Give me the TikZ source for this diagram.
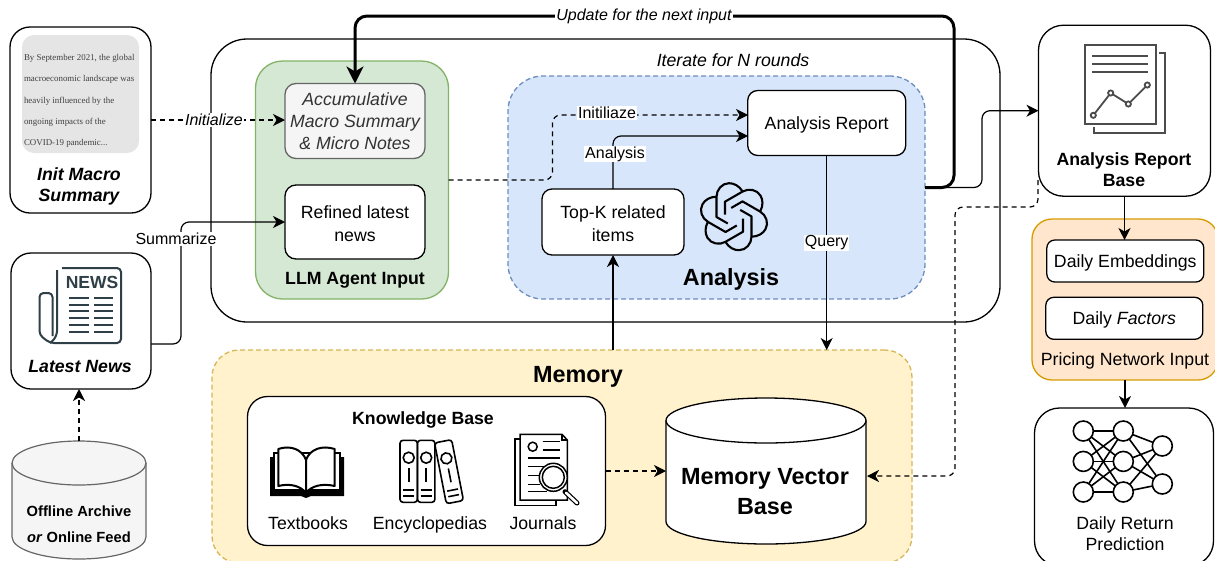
\documentclass[tikz,border=0pt]{standalone}
\usepackage{fontspec}
\setmainfont{Liberation Sans}
\newfontfamily\notefont{Liberation Serif}
\usetikzlibrary{arrows.meta}
\usetikzlibrary{positioning}
\definecolor{greenfill}{HTML}{D5E8D4}
\definecolor{greenline}{HTML}{82B366}
\definecolor{bluefill}{HTML}{D7E6FA}
\definecolor{blueline}{HTML}{6C8EBF}
\definecolor{yellowfill}{HTML}{FFF2CC}
\definecolor{yellowline}{HTML}{D6B656}
\definecolor{orangefill}{HTML}{FFE6CC}
\definecolor{orangeline}{HTML}{D79B00}
\definecolor{newsink}{HTML}{2F3F47}
\tikzset{
	box/.style={draw, line width=1.3pt, rounded corners=10pt, inner sep=0pt, outer sep=0pt, fill=white},
	groupdash/.style={dash pattern=on 5pt off 3pt},
	plain/.style={inner sep=0pt, outer sep=0pt, minimum size=0pt},
	txtsmall/.style={font=\fontsize{16}{20}\selectfont, align=center},
	txtmain/.style={font=\fontsize{17.7}{21.5}\selectfont, align=center},
	txtbig/.style={font=\fontsize{23.4}{30}\selectfont\bfseries, align=center},
	lbl/.style={txtsmall, fill=white, inner sep=1pt},
	arr/.style={-{Stealth[length=12pt,width=12pt,inset=3.5pt]}, line width=1.2pt},
	darr/.style={arr, dash pattern=on 5pt off 4pt},
}
\begin{document}
\begin{tikzpicture}[x=1pt,y=-1pt]
	\useasboundingbox (0,0) rectangle (1215,560);
	\clip (0,0) rectangle (1215,560);
	% groups
	\node[box, rounded corners=36pt, minimum width=789pt, minimum height=283pt] (iterate) at (605.5,180.5) {};
	\node[box, draw=greenline, fill=greenfill, rounded corners=27pt, minimum width=193pt, minimum height=238pt] (llm) at (352,180) {};
	\node[box, groupdash, draw=blueline, fill=bluefill, rounded corners=35pt, minimum width=417pt, minimum height=223pt] (analysis) at (716.5,187.5) {};
	\node[box, groupdash, draw=yellowline, fill=yellowfill, rounded corners=27pt, minimum width=700pt, minimum height=213pt] (memory) at (562,456.5) {};
	\node[box, draw=orangeline, fill=orangefill, rounded corners=20pt, minimum width=186pt, minimum height=161pt] (pricing) at (1125,299.5) {};
	% boxes
	\node[box, rounded corners=20pt, minimum width=141pt, minimum height=186pt] (init) at (80.5,120) {};
	\node[box, rounded corners=20pt, minimum width=140pt, minimum height=136pt] (news) at (81,321) {};
	\node[box, rounded corners=25pt, minimum width=172pt, minimum height=171pt] (rbase) at (1124.5,110.7) {};
	\node[box, rounded corners=25pt, minimum width=179pt, minimum height=158pt] (pred) at (1124,487) {};
	\node[box, rounded corners=20pt, minimum width=358pt, minimum height=149pt] (kb) at (426.5,471) {};
	\node[box, draw=black!60, fill=black!4, text=black!80, txtmain, font=\fontsize{17.7}{22}\selectfont\itshape, rounded corners=11pt, minimum width=140pt, minimum height=75pt] (accum) at (355,121) {Accumulative\\Macro Summary\\\& Micro Notes};
	\node[box, txtmain, font=\fontsize{17.7}{23}\selectfont, rounded corners=11pt, minimum width=140pt, minimum height=74pt] (refined) at (355,222) {\rule{0pt}{16pt}Refined latest\\news};
	\node[box, txtmain, minimum width=158pt, minimum height=65pt] (report) at (826.7,123) {\rule{0pt}{17pt}Analysis Report};
	\node[box, txtmain, font=\fontsize{17.7}{23}\selectfont, minimum width=142pt, minimum height=66pt] (topk) at (613,222) {\rule{0pt}{16pt}Top-K related\\items};
	\node[box, txtmain, rounded corners=8pt, minimum width=157pt, minimum height=42pt] (embed) at (1125.3,261) {\rule{0pt}{16pt}Daily Embeddings};
	\node[box, txtmain, rounded corners=8pt, minimum width=157pt, minimum height=42pt] (factors) at (1124.3,318.3) {\rule{0pt}{16pt}Daily \textit{Factors}};
	% cylinders
	\draw[line width=1.2pt, draw=black!60, fill=black!4] (12,463) arc[start angle=180, end angle=0, x radius=67pt, y radius=22pt] -- (146,537) arc[start angle=0, end angle=-180, x radius=67pt, y radius=22pt] -- cycle;
	\draw[line width=1.2pt, draw=black!60] (12,463) arc[start angle=180, end angle=360, x radius=67pt, y radius=22pt];
	\draw[line width=1.3pt, fill=white] (666,420.5) arc[start angle=180, end angle=0, x radius=100pt, y radius=22.5pt] -- (866,521.5) arc[start angle=0, end angle=-180, x radius=100pt, y radius=22.5pt] -- cycle;
	\draw[line width=1.3pt] (666,420.5) arc[start angle=180, end angle=360, x radius=100pt, y radius=22.5pt];
	\node[plain, minimum width=134pt, minimum height=118pt] (offline) at (79,500) {};
	\node[plain, minimum width=200pt, minimum height=146pt] (vecbase) at (766,471) {};
	% texts
	\node[box, draw=none, fill=black!10, rounded corners=12pt, minimum width=117pt, minimum height=118pt] (initpaper) at (80.5,94) {};
	\node[plain, anchor=west, text=black!75, align=left, font=\fontsize{8.9}{21.4}\selectfont\notefont] (initnote) at (24,101) {By September 2021, the global\\macroeconomic landscape was\\heavily influenced by the\\ongoing impacts of the\\COVID-19 pandemic...};
	\node[plain, txtmain, font=\fontsize{17.7}{21}\selectfont\bfseries\itshape] (initlbl) at (79,186) {Init Macro\\Summary};
	\node[plain, txtmain, font=\fontsize{17.7}{21}\selectfont\bfseries\itshape] (newslbl) at (80,366.5) {Latest News};
	\node[plain, txtmain, font=\fontsize{14.7}{26}\selectfont\bfseries] (offlinelbl) at (79,524) {Offline Archive\\\textit{or} Online Feed};
	\node[plain, txtmain, font=\fontsize{17.7}{21}\selectfont\bfseries] (llmlbl) at (355,280) {LLM Agent Input};
	\node[plain, txtbig] (analysislbl) at (731,279) {Analysis};
	\node[plain, txtmain, font=\fontsize{17.7}{21}\selectfont\itshape] (iterlbl) at (733,60.5) {Iterate for N rounds};
	\node[plain, txtbig] (memorylbl) at (578,377) {Memory};
	\node[plain, txtbig] (veclbl) at (765,491.5) {Memory Vector\\Base};
	\node[plain, txtmain, font=\fontsize{17.7}{21}\selectfont\bfseries] (kblbl) at (423,420) {Knowledge Base};
	\node[plain, txtmain, anchor=base] (textbooks) at (308,529) {Textbooks};
	\node[plain, txtmain, anchor=base] (encyc) at (430,529) {Encyclopedias};
	\node[plain, txtmain, anchor=base] (journals) at (543,529) {Journals};
	\node[plain, txtmain, font=\fontsize{17.7}{21}\selectfont\bfseries] (rbaselbl) at (1124,169.5) {Analysis Report\\Base};
	\node[plain, txtmain] (pricelbl) at (1125,361) {Pricing Network Input};
	\node[plain, txtmain, font=\fontsize{17.7}{21}\selectfont] (predlbl) at (1125,534) {Daily Return\\Prediction};
	% free ends
	\coordinate (newsout) at (151,344);
	\coordinate (reportinit) at (748,115);
	\coordinate (reportin) at (748,136);
	\coordinate (rbaseout) at (1038,180);
	\coordinate (vecin) at (867,476);
	% connectors
	\draw[darr] (init.east) -- (init.east -| accum.west) node[lbl, font=\fontsize{16}{20}\selectfont\itshape, pos=.47] (initlink) {Initialize};
	\draw[arr, rounded corners=8pt] (newsout) -- ++(30,0) |- (refined.west);
	\node[lbl] (sumlink) at (176,239) {Summarize};
	\draw[darr] (offline.north) -- (news.south -| offline.north);
	\draw[darr, rounded corners=8pt] (llm.east) -- ++(104,0) |- (reportinit);
	\node[lbl] (initlbl2) at (607,113) {Initiliaze};
	\draw[arr, rounded corners=8pt] (topk.north) |- (reportin);
	\node[lbl] (anlink) at (615,154) {Analysis};
	\draw[arr] (report.south) -- (report.south |- memory.north) node[lbl, pos=.45] (querylink) {Query};
	\draw[arr] (topk.south |- memory.north) -- (topk.south);
	\draw[arr, rounded corners=8pt] (analysis.east) -- ++(57,0) |- (rbase.west);
	\draw[arr, -{Stealth[length=17pt,width=17pt,inset=5pt]}, line width=3pt, rounded corners=12pt] (analysis.east) -- ++(29,0) |- (355,16) -- (accum.north);
	\node[lbl, font=\fontsize{16}{20}\selectfont\itshape] (updatelink) at (644,16) {Update for the next input};
	\draw[darr, rounded corners=8pt] (rbaseout) |- (955,207) |- (vecin);
	\draw[darr] (kb.east) -- (vecbase.west);
	\draw[arr] (rbase.south) -- (rbase.south |- embed.north);
	\draw[arr] (pricing.south) -- (pricing.south |- pred.north);
	% news icon
	\begin{scope}[newsink, line width=2pt, line join=round]
		\draw[rounded corners=4pt] (62,268) -- (121,268) -- (121,343) -- (50,343) -- (39.5,335) -- (39.5,293) -- (52.5,293) -- (52.5,336);
		\draw[rounded corners=6pt] (57,270) -- (57,337) -- (50,343);
		\node[plain, font=\fontsize{17.5}{17.5}\selectfont\bfseries] (newsword) at (92,282.5) {NEWS};
		\foreach \y in {298,305,311,318,325,332}{
			\draw[line width=2.7pt] (69.3,\y) -- (88.7,\y);
			\draw[line width=2.7pt] (94.3,\y) -- (113,\y);
		}
	\end{scope}
	% report icon
	\begin{scope}[black!70, line width=1.8pt]
		\draw (1085.3,44.7) rectangle (1156,124);
		\draw (1159,53.3) -- (1164.7,53.3) -- (1164.7,132.7) -- (1094.3,132.7) -- (1094.3,126.7);
		\foreach \y in {56,64,72}{
			\draw (1092.3,\y) -- (1148,\y);
		}
		\draw (1093.3,115.3) -- (1110.7,93) -- (1128.3,104) -- (1147.3,85);
		\foreach \x/\y in {1093.3/115.3,1110.7/93,1128.3/104,1147.3/85}{
			\draw[fill=white] (\x,\y) circle (2.6pt);
		}
	\end{scope}
	% network icon
	\foreach \n/\x/\y in {a/1083.3/431,b/1083.3/461.4,c/1083.3/492,d/1123.3/431,e/1123.3/461.4,f/1123.3/492,g/1162.3/446,h/1162.3/484}{
		\coordinate (\n) at (\x,\y);
	}
	\foreach \s in {a,b,c}{
		\foreach \t in {d,e,f}{
			\draw[line width=1.6pt] (\s) -- (\t);
		}
	}
	\foreach \s in {d,e,f}{
		\foreach \t in {g,h}{
			\draw[line width=1.6pt] (\s) -- (\t);
		}
	}
	\foreach \n in {a,b,c,d,e,f,g,h}{
		\draw[line width=1.6pt, fill=white] (\n) circle (10pt);
	}
	% openai knot
	\foreach \r in {0,60,...,300}{
		\begin{scope}[shift={(734,216.7)}, rotate=\r]
			\draw[line width=2.1pt, line join=round] (-6.2,6.8) -- (-17.5,0.3) -- (-17.5,-20) .. controls (-17.5,-27) and (-12,-33.5) .. (-5,-33.5) .. controls (0,-33.5) and (5,-31) .. (8.6,-25.2);
		\end{scope}
	}
	% book icon
	\fill (270,457) -- (344,457) -- (344,496) -- (311,496) -- (306,498) -- (301,496) -- (270,496) -- cycle;
	\draw[line width=1.6pt, fill=white] (274,453) rectangle (340,490);
	\draw[line width=2pt, fill=white, line join=round] (278.3,449) .. controls (290,445) and (302,449) .. (306,460) .. controls (310,449) and (322,445) .. (334.7,449) -- (334.7,486) .. controls (322,483) and (311,486) .. (306,493) .. controls (301,486) and (290,483) .. (278.3,486) -- cycle (306,460) -- (306,493);
	% encyclopedia icons
	\foreach \x/\y/\r in {408.7/471.3/0,426.2/471.3/0,449/471.7/11}{
		\begin{scope}[shift={(\x,\y)}, rotate=\r, line width=1.6pt]
			\draw[rounded corners=3pt] (-8.7,-31) rectangle (8.7,31);
			\draw (0,-13.6) circle (5.5pt);
			\draw (0,-3.3) -- (0,10.7);
			\draw (-5.5,18.7) -- (5.5,18.7);
			\draw (-5.5,24.4) -- (5.5,24.4);
		\end{scope}
	}
	% journal icon
	\begin{scope}[line width=1.5pt]
		\draw (520,439) -- (515,439) -- (515,505.7) -- (556,505.7) -- (556,500);
		\draw[fill=white] (520,434.3) -- (562,434.3) -- (567.3,440) -- (567.3,500) -- (520,500) -- cycle;
		\draw (562,434.3) -- (562,440) -- (567.3,440);
		\draw (532.7,446.7) circle (4.5pt);
		\draw (542.7,441.7) -- (560,441.7);
		\draw (542.7,450) -- (560,450);
		\draw (528,458) -- (560,458);
		\draw (528,466.7) -- (547,466.7);
		\draw (528,475.7) -- (540,475.7);
		\draw (528,484.3) -- (540,484.3);
		\draw (528,491.7) -- (547,491.7);
		\draw[line width=5pt, line cap=round] (565,491.7) -- (577,503);
		\draw[line width=2.6pt, white, line cap=round] (566,492.7) -- (577,503);
		\draw[fill=white] (553.3,477.3) circle (14pt);
		\draw (553.3,477.3) circle (11pt);
	\end{scope}
\end{tikzpicture}
\end{document}
